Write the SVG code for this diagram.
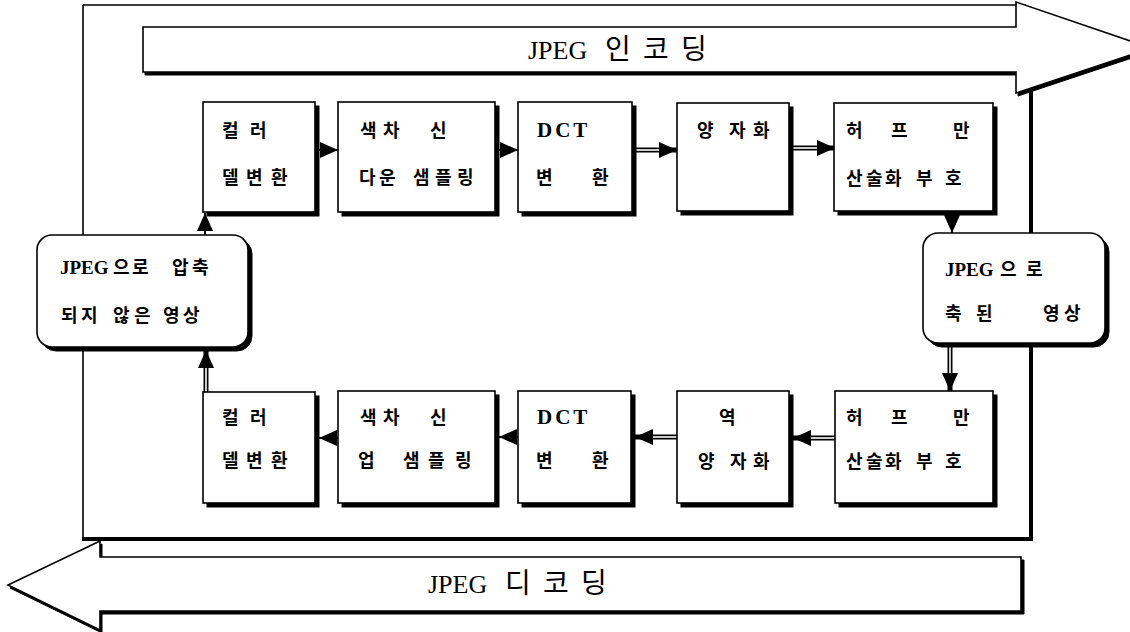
<svg xmlns="http://www.w3.org/2000/svg" width="1130" height="632" viewBox="0 0 1130 632">
<style>
.bg{fill:#fff}
.box{fill:#fff;stroke:#000;stroke-width:1.6}
.sh{fill:#000;stroke:#000;stroke-width:1}
.frm{fill:none;stroke:#000}
.kr{font-family:"Noto Sans CJK KR","Noto Sans CJK SC",sans-serif;font-weight:bold;font-size:18px;fill:#000}
.lat{font-family:"Liberation Serif",serif;font-weight:bold;fill:#000}
.band{font-family:"Liberation Serif",serif;font-size:26px;fill:#000}
.bandkr{font-family:"Noto Sans CJK KR",sans-serif;font-size:28px;fill:#000}
.wire{fill:none;stroke:#000;stroke-width:2}
.dbl{fill:none;stroke:#000;stroke-width:5}
.dbli{fill:none;stroke:#fff;stroke-width:1.6}
</style>
<defs>
<marker id="ah" viewBox="0 0 18 16" refX="18" refY="8" markerWidth="18" markerHeight="16" markerUnits="userSpaceOnUse" orient="auto">
<path d="M0,0 L18,8 L0,16 Z" fill="#000"/>
</marker>
</defs>
<rect class="bg" x="0" y="0" width="1130" height="632"/>

<g id="frame">
<line class="frm" x1="83" y1="5" x2="83" y2="540" stroke-width="1.6"/>
<line class="frm" x1="83" y1="5" x2="1026" y2="5" stroke-width="1.6"/>
<line class="frm" x1="82" y1="539" x2="1033" y2="539" stroke-width="4"/>
<line class="frm" x1="1031" y1="91" x2="1031" y2="541" stroke-width="4"/>
</g>

<g id="encode-arrow">
<path class="sh" d="M145,30 H1018 V5 L1153,51 L1018,96 V75 H145 Z"/>
<path class="box" d="M143,27 H1016 V2 L1151,48 L1016,93 V72 H143 Z"/>
<text class="band" x="528" y="59">JPEG</text>
<text class="bandkr" x="605 643 681" y="59">인코딩</text>
</g>

<g id="decode-arrow">
<path class="sh" d="M1024,560 H102 V544 L10,588 L102,633 V614 H1024 Z"/>
<path class="box" d="M1021,557 H100 V541 L8,585 L100,630 V611 H1021 Z"/>
<text class="band" x="428" y="593">JPEG</text>
<text class="bandkr" x="505 543 581" y="593">디코딩</text>
</g>

<g id="connectors">
<line class="wire" x1="316" y1="150" x2="338" y2="150" marker-end="url(#ah)"/>
<line class="wire" x1="496" y1="150" x2="518" y2="150" marker-end="url(#ah)"/>
<line class="dbl" x1="636" y1="150" x2="677" y2="150" marker-end="url(#ah)"/>
<line class="dbli" x1="636" y1="150" x2="659" y2="150"/>
<line class="dbl" x1="793" y1="148" x2="835" y2="148" marker-end="url(#ah)"/>
<line class="dbli" x1="793" y1="148" x2="817" y2="148"/>
<line class="wire" x1="952" y1="212" x2="952" y2="233" marker-end="url(#ah)"/>
<line class="dbl" x1="950" y1="347" x2="950" y2="391" marker-end="url(#ah)"/>
<line class="dbli" x1="950" y1="347" x2="950" y2="373"/>
<line class="dbl" x1="835" y1="438" x2="793" y2="438" marker-end="url(#ah)"/>
<line class="dbli" x1="835" y1="438" x2="811" y2="438"/>
<line class="dbl" x1="677" y1="437" x2="635" y2="437" marker-end="url(#ah)"/>
<line class="dbli" x1="677" y1="437" x2="653" y2="437"/>
<line class="wire" x1="518" y1="437" x2="499" y2="437" marker-end="url(#ah)"/>
<line class="wire" x1="338" y1="438" x2="319" y2="438" marker-end="url(#ah)"/>
<line class="dbl" x1="206" y1="392" x2="206" y2="350" marker-end="url(#ah)"/>
<line class="dbli" x1="206" y1="392" x2="206" y2="368"/>
<line class="wire" x1="205" y1="235" x2="205" y2="213" marker-end="url(#ah)"/>
</g>

<g id="n-color-top">
<rect class="sh" x="207" y="106" width="112" height="110"/>
<rect class="box" x="203" y="102" width="112" height="110"/>
<text class="kr" x="222 250" y="137">컬러</text>
<text class="kr" x="222 246 271" y="184">델변환</text>
</g>
<g id="n-chroma-down">
<rect class="sh" x="342" y="106" width="157" height="110"/>
<rect class="box" x="338" y="102" width="157" height="110"/>
<text class="kr" x="360 383 430" y="137">색차신</text>
<text class="kr" x="359 379 413 435 457" y="184">다운샘플링</text>
</g>
<g id="n-dct-top">
<rect class="sh" x="522" y="106" width="114" height="110"/>
<rect class="box" x="518" y="102" width="114" height="110"/>
<text class="lat" x="537" y="137" font-size="21" letter-spacing="3">DCT</text>
<text class="kr" x="536 592" y="184">변환</text>
</g>
<g id="n-quant">
<rect class="sh" x="681" y="107" width="112" height="108"/>
<rect class="box" x="677" y="103" width="112" height="108"/>
<text class="kr" x="697 729 753" y="137">양자화</text>
</g>
<g id="n-huff-top">
<rect class="sh" x="838" y="107" width="159" height="108"/>
<rect class="box" x="834" y="103" width="159" height="108"/>
<text class="kr" x="846 891 953" y="137">허프만</text>
<text class="kr" x="846 866 885 916 945" y="185">산술화부호</text>
</g>
<g id="n-compressed">
<rect class="sh" x="927" y="237" width="182" height="110" rx="15"/>
<rect class="box" x="923" y="233" width="182" height="110" rx="15"/>
<text class="lat" x="945" y="276" font-size="19">JPEG</text>
<text class="kr" x="1000 1026" y="276">으로</text>
<text class="kr" x="945 976 1043 1064" y="320">축된영상</text>
</g>
<g id="n-uncompressed">
<rect class="sh" x="41" y="239" width="211" height="112" rx="15"/>
<rect class="box" x="37" y="235" width="211" height="112" rx="15"/>
<text class="lat" x="60" y="274" font-size="19">JPEG</text>
<text class="kr" x="113 132 172 192" y="274">으로압축</text>
<text class="kr" x="61 81 113 134 163 183" y="322">되지않은영상</text>
</g>
<g id="n-huff-bot">
<rect class="sh" x="839" y="395" width="158" height="112"/>
<rect class="box" x="835" y="391" width="158" height="112"/>
<text class="kr" x="846 891 953" y="424">허프만</text>
<text class="kr" x="846 866 885 916 945" y="468">산술화부호</text>
</g>
<g id="n-dequant">
<rect class="sh" x="681" y="395" width="112" height="112"/>
<rect class="box" x="677" y="391" width="112" height="112"/>
<text class="kr" x="719" y="424">역</text>
<text class="kr" x="698 730 753" y="468">양자화</text>
</g>
<g id="n-dct-bot">
<rect class="sh" x="522" y="395" width="113" height="112"/>
<rect class="box" x="518" y="391" width="113" height="112"/>
<text class="lat" x="537" y="424" font-size="21" letter-spacing="3">DCT</text>
<text class="kr" x="536 592" y="467">변환</text>
</g>
<g id="n-chroma-up">
<rect class="sh" x="342" y="395" width="157" height="112"/>
<rect class="box" x="338" y="391" width="157" height="112"/>
<text class="kr" x="360 383 430" y="424">색차신</text>
<text class="kr" x="358 403 428 455" y="467">업샘플링</text>
</g>
<g id="n-color-bot">
<rect class="sh" x="207" y="396" width="112" height="111"/>
<rect class="box" x="203" y="392" width="112" height="111"/>
<text class="kr" x="222 250" y="424">컬러</text>
<text class="kr" x="222 246 271" y="467">델변환</text>
</g>
</svg>
